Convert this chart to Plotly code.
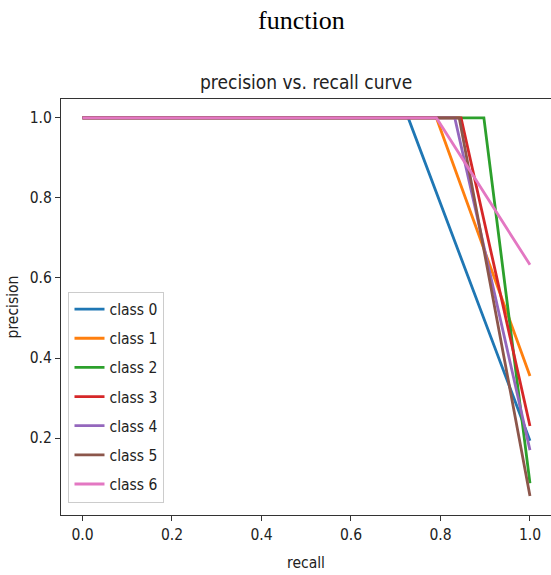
import plotly.graph_objects as go

classes = ["class 0", "class 1", "class 2", "class 3", "class 4", "class 5", "class 6"]
colors = ["#1f77b4", "#ff7f0e", "#2ca02c", "#d62728", "#9467bd", "#8c564b", "#e377c2"]
# recall where precision starts to drop, and final precision at recall 1.0
drop_recall = [0.728, 0.791, 0.897, 0.846, 0.832, 0.842, 0.791]
end_precision = [0.193, 0.355, 0.087, 0.230, 0.170, 0.055, 0.633]
x_ticks = [0.0, 0.2, 0.4, 0.6, 0.8, 1.0]
y_ticks = [0.2, 0.4, 0.6, 0.8, 1.0]

FONT = "DejaVu Sans Condensed, DejaVu Sans, sans-serif"

fig = go.Figure()
for name, col, r, p in zip(classes, colors, drop_recall, end_precision):
    fig.add_trace(go.Scatter(
        x=[0.0, r, 1.0], y=[1.0, 1.0, p], mode="lines", name=name,
        legendgroup=name, line=dict(color=col, width=2.8)))

axis_common = dict(showgrid=False, zeroline=False, showline=True, mirror=True,
                   linecolor="#333", linewidth=1.2, ticks="outside", ticklen=5,
                   tickcolor="#333", tickfont=dict(family=FONT, size=15.5, color="#222"),
                   tickformat=".1f")

fig.update_layout(
    width=551, height=575,
    margin=dict(l=61, r=0, t=99, b=60),
    paper_bgcolor="white", plot_bgcolor="white",
    font=dict(family=FONT, color="#222"),
    xaxis=dict(range=[-0.048, 1.047], tickvals=x_ticks,
               title=dict(text="recall", font=dict(family=FONT, size=15.5), standoff=14),
               **axis_common),
    yaxis=dict(range=[0.00775, 1.04725], tickvals=y_ticks,
               title=dict(text="precision", font=dict(family=FONT, size=15.5), standoff=7),
               **axis_common),
    legend=dict(x=0.0153, y=0.03, xanchor="left", yanchor="bottom",
                bgcolor="white", bordercolor="#cccccc", borderwidth=1,
                font=dict(family=FONT, size=15.5, color="#222"),
                tracegroupgap=6),
    showlegend=True,
    annotations=[
        dict(text="function", xref="paper", yref="paper", x=0.49, y=1.0,
             yshift=79, xanchor="center", yanchor="middle", showarrow=False,
             font=dict(family="Liberation Serif, Times New Roman, serif", size=26, color="#000")),
        dict(text="precision vs. recall curve", xref="paper", yref="paper", x=0.5, y=1.0,
             yshift=17, xanchor="center", yanchor="middle", showarrow=False,
             font=dict(family=FONT, size=19, color="#222")),
    ],
)

fig.write_html("out.html")
